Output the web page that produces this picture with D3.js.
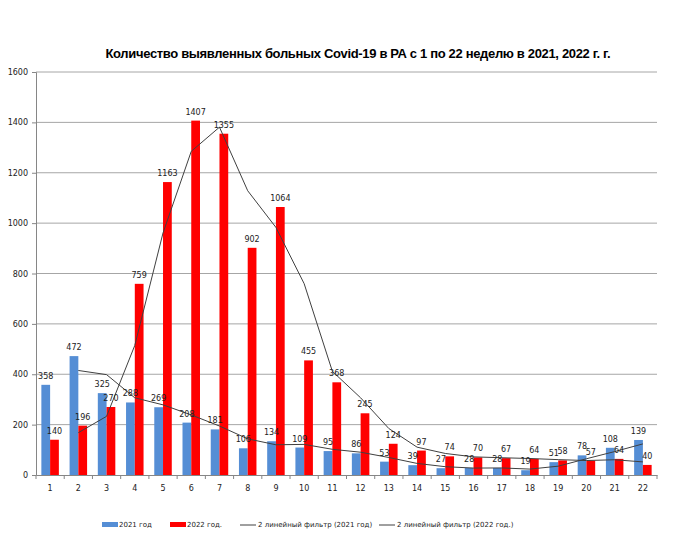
<!DOCTYPE html>
<html>
<head>
<meta charset="utf-8">
<script src="https://cdn.jsdelivr.net/npm/d3@7"></script>
<style>
body { margin: 0; background: #fff; }
text { font-family: "DejaVu Sans", Verdana, sans-serif; }
</style>
</head>
<body>
<script>
var weeks = d3.range(1, 23);
var cases2021 = [358, 472, 325, 288, 269, 208, 181, 106, 134, 109, 95, 86, 53, 39, 27, 28, 28, 19, 51, 78, 108, 139];
var cases2022 = [140, 196, 270, 759, 1163, 1407, 1355, 902, 1064, 455, 368, 245, 124, 97, 74, 70, 67, 64, 58, 57, 64, 40];
var yTicks = [0, 200, 400, 600, 800, 1000, 1200, 1400, 1600];
var seriesNames = ["2021 год", "2022 год."];
var trendNames = ["2 линейный фильтр (2021 год)", "2 линейный фильтр (2022 год.)"];
var colors = ["#558ED5", "#FF0000"];

var margin = {top: 72, left: 36},
    width = 621,
    height = 475 - margin.top;

var svg = d3.select("body").append("svg")
    .attr("width", 693)
    .attr("height", 535);

svg.append("text")
    .attr("x", 358).attr("y", 58)
    .attr("text-anchor", "middle")
    .style("font-family", "'Liberation Sans', Arial, sans-serif")
    .style("font-weight", "bold")
    .style("font-size", "13px")
    .attr("textLength", 505)
    .text("Количество выявленных больных Covid-19 в РА с 1 по 22 неделю в 2021, 2022 г. г.");

var g = svg.append("g")
    .attr("transform", "translate(" + margin.left + "," + margin.top + ")");

var x = d3.scaleBand().domain(weeks).range([0, width]);
var y = d3.scaleLinear().domain([0, 1600]).range([height, 0]);
var barW = x.bandwidth() * 0.31;

// gridlines
g.selectAll(".grid")
    .data(yTicks.slice(1))
  .enter().append("line")
    .attr("x1", 0).attr("x2", width)
    .attr("y1", function(d) { return y(d); })
    .attr("y2", function(d) { return y(d); })
    .attr("stroke", "#a6a6a6").attr("stroke-width", 1);

// y axis
var yAxis = g.append("g")
    .call(d3.axisLeft(y).tickValues(yTicks).tickFormat(d3.format("d")).tickSize(4).tickPadding(4));
yAxis.select(".domain").attr("stroke", "#868686");
yAxis.selectAll(".tick line").attr("stroke", "#868686");
yAxis.selectAll("text").style("font-size", "8px").attr("fill", "#222");

// bars
var series = [cases2021, cases2022];
series.forEach(function(vals, si) {
  g.append("g").selectAll("rect")
      .data(vals)
    .enter().append("rect")
      .attr("x", function(d, i) { return x(weeks[i]) + x.bandwidth() / 2 - barW + si * barW; })
      .attr("y", function(d) { return y(d); })
      .attr("width", barW)
      .attr("height", function(d) { return height - y(d); })
      .attr("fill", colors[si]);
});

// moving average trendlines (period 2)
var line = d3.line()
    .x(function(d) { return x(d.w) + x.bandwidth() / 2; })
    .y(function(d) { return y(d.v); });
series.forEach(function(vals) {
  var ma = [];
  for (var i = 1; i < vals.length; i++)
    ma.push({w: weeks[i], v: (vals[i - 1] + vals[i]) / 2});
  g.append("path")
      .datum(ma)
      .attr("d", line)
      .attr("fill", "none")
      .attr("stroke", "#404040")
      .attr("stroke-width", 1);
});

// data labels
series.forEach(function(vals, si) {
  g.append("g").selectAll("text")
      .data(vals)
    .enter().append("text")
      .attr("x", function(d, i) { return x(weeks[i]) + x.bandwidth() / 2 - barW / 2 + si * barW; })
      .attr("y", function(d) { return y(d) - 6; })
      .attr("text-anchor", "middle")
      .style("font-size", "8px")
      .attr("fill", "#222")
      .text(function(d) { return d; });
});

// x axis
var xAxis = g.append("g")
    .attr("transform", "translate(0," + height + ")")
    .call(d3.axisBottom(x).tickSize(0).tickPadding(10));
xAxis.select(".domain").attr("stroke", "#868686");
xAxis.selectAll("text").style("font-size", "8px").attr("fill", "#222");
xAxis.selectAll(".sep")
    .data(weeks.concat([23]))
  .enter().append("line")
    .attr("x1", function(d, i) { return i * x.step(); })
    .attr("x2", function(d, i) { return i * x.step(); })
    .attr("y1", 0).attr("y2", 4)
    .attr("stroke", "#868686");

// legend
var legend = svg.append("g").attr("transform", "translate(0,525)");
seriesNames.forEach(function(n, i) {
  var lx = [102, 170][i];
  legend.append("rect").attr("x", lx).attr("y", -3).attr("width", 16).attr("height", 5).attr("fill", colors[i]);
  legend.append("text").attr("x", lx + 17).attr("y", 2).style("font-size", "7px").attr("fill", "#222").text(n);
});
trendNames.forEach(function(n, i) {
  var lx = [240, 379][i];
  legend.append("line").attr("x1", lx).attr("x2", lx + 16).attr("y1", 0).attr("y2", 0).attr("stroke", "#404040");
  legend.append("text").attr("x", lx + 18).attr("y", 2).style("font-size", "7px").attr("fill", "#222").text(n);
});
</script>
</body>
</html>
